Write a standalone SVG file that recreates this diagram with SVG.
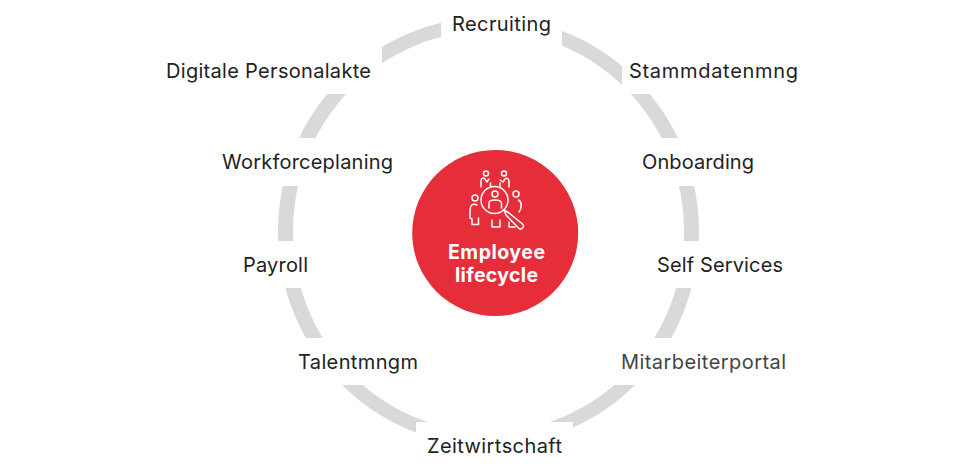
<svg xmlns="http://www.w3.org/2000/svg" width="960" height="470" viewBox="0 0 960 470">
<style>
text{font-family:"Inter","Open Sans","Liberation Sans",sans-serif;font-size:20px;fill:#222}
.c{font-weight:700;fill:#fff;font-size:19.500px}
.i{fill:none;stroke:#fff;stroke-width:1.5;stroke-linecap:round;stroke-linejoin:round}
</style>
<defs>
<clipPath id="gaps"><path clip-rule="evenodd" d="M0 0H960V470H0Z M441 0H562V70H441Z M622 40H820V94H622Z M600 138H820V186H600Z M600 241H820V288H600Z M600 338H820V385H600Z M416 422H573V470H416Z M160 338H380V385H160Z M160 241H380V288H160Z M160 138H380V186H160Z M160 40H382V94H160Z"/></clipPath>
</defs>
<g id="connectors">
<path clip-path="url(#gaps)" fill="#d9d9d9" fill-rule="evenodd" d="M278 231.500A210.500 214 0 1 1 699 231.500A210.500 214 0 1 1 278 231.500Z M293 231.500A195.500 200.500 0 1 0 684 231.500A195.500 200.500 0 1 0 293 231.500Z"/>
</g>
<g id="center">
<circle cx="495.200" cy="233" r="83" fill="#e52e3a"/>
<g class="i">
<circle cx="494.500" cy="200" r="13.500"/>
<path d="M504 210L509 213L522.500 224A2.500 2.500 0 0 1 518.500 228L506 215Z"/>
<circle cx="495" cy="194" r="3"/>
<path d="M489 208V203C489 199 501 199 501.500 203V208"/>
<circle cx="486" cy="173.500" r="2.500"/>
<path d="M481 187V181C481 178 484 177 485 179L487 182L489 179M490.500 187V183"/>
<circle cx="504" cy="173.500" r="2.500"/>
<path d="M500 187V183M500 180L503 182L505 179C507 177 509 179 509 182V187"/>
<circle cx="475" cy="198" r="3"/>
<path d="M477 205C473 203 470 205 470 210V218L472 219V224.500H478.500V218"/>
<circle cx="516" cy="194" r="3"/>
<path d="M518.500 200C522 202 522 208 519 212"/>
<path d="M492 220V227H500V220M509 222V227H515"/>
</g>
<text class="c" x="496.500" y="259" text-anchor="middle" textLength="97">Employee</text>
<text class="c" x="496.500" y="282" text-anchor="middle" textLength="83">lifecycle</text>
</g>
<g id="recruiting"><text x="452" y="30.500" textLength="99">Recruiting</text></g>
<g id="stammdatenmng"><text x="629" y="77.500" textLength="169">Stammdatenmng</text></g>
<g id="onboarding"><text x="642" y="168.500" textLength="112">Onboarding</text></g>
<g id="self-services"><text x="657" y="271.500" textLength="126">Self Services</text></g>
<g id="mitarbeiterportal"><text x="621" y="368.500" textLength="165" style="fill:#444">Mitarbeiterportal</text></g>
<g id="zeitwirtschaft"><text x="427" y="452.500" textLength="135">Zeitwirtschaft</text></g>
<g id="talentmngm"><text x="298" y="368.500" textLength="120">Talentmngm</text></g>
<g id="payroll"><text x="243" y="271.500" textLength="65">Payroll</text></g>
<g id="workforceplaning"><text x="222" y="168.500" textLength="171">Workforceplaning</text></g>
<g id="digitale-personalakte"><text x="166" y="77.500" textLength="205">Digitale Personalakte</text></g>
</svg>
